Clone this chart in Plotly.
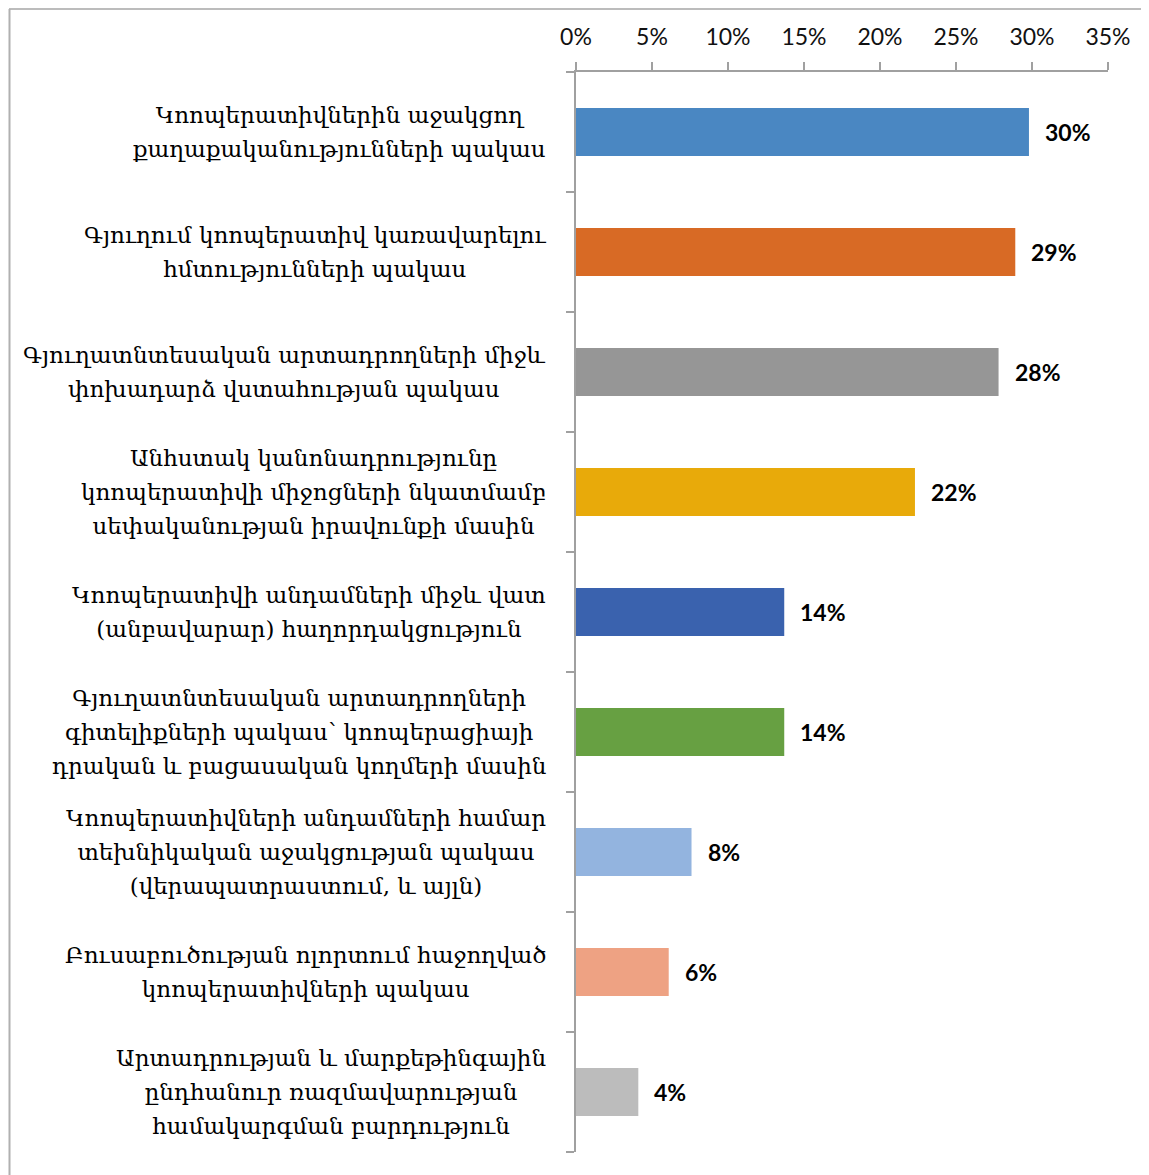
import plotly.graph_objects as go

categories = [
    "Կոոպերատիվներին աջակցող<br>քաղաքականությունների պակաս",
    "Գյուղում կոոպերատիվ կառավարելու<br>հմտությունների պակաս",
    "Գյուղատնտեսական արտադրողների միջև<br>փոխադարձ վստահության պակաս",
    "Անհստակ կանոնադրությունը<br>կոոպերատիվի միջոցների նկատմամբ<br>սեփականության իրավունքի մասին",
    "Կոոպերատիվի անդամների միջև վատ<br>(անբավարար) հաղորդակցություն",
    "Գյուղատնտեսական արտադրողների<br>գիտելիքների պակաս՝ կոոպերացիայի<br>դրական և բացասական կողմերի մասին",
    "Կոոպերատիվների անդամների համար<br>տեխնիկական աջակցության պակաս<br>(վերապատրաստում, և այլն)",
    "Բուսաբուծության ոլորտում հաջողված<br>կոոպերատիվների պակաս",
    "Արտադրության և մարքեթինգային<br>ընդհանուր ռազմավարության<br>համակարգման բարդություն",
]
values = [0.298, 0.289, 0.278, 0.223, 0.137, 0.137, 0.076, 0.061, 0.041]
bar_colors = ["#4a87c2", "#d86a25", "#969696", "#e8aa0a", "#3a62ae",
              "#67a042", "#93b4df", "#eea283", "#bcbcbc"]
x_ticks = [0, 0.05, 0.10, 0.15, 0.20, 0.25, 0.30, 0.35]

# the page body adds an 8px offset; figure coords = reference coords - 8
W, H = 1149, 1167
L, R, T, B = 568, 49, 64, 23
pw, ph = W - L - R, H - T - B

fig = go.Figure(go.Bar(
    x=values, y=list(range(len(categories))), orientation="h",
    marker=dict(color=bar_colors, line=dict(width=0)),
    width=0.4, hoverinfo="skip",
))

for i, (c, v) in enumerate(zip(categories, values)):
    fig.add_annotation(x=v, y=i, xref="x", yref="y", text=f"<b>{v:.0%}</b>",
                       showarrow=False, xanchor="left", xshift=14,
                       font=dict(family="Lato", size=23, color="#000"))
    styled = "<br>".join(f'<span style="font-size:23px">{ln}</span>'
                         for ln in c.split("<br>"))
    fig.add_annotation(x=-28 / pw, y=i, xref="paper", yref="y", text=styled,
                       showarrow=False, xanchor="right", yanchor="middle",
                       align="center",
                       font=dict(family="DejaVu Serif", size=26, color="#000"))

# outer frame (top and left edges visible)
fig.add_shape(type="line", xref="paper", yref="paper",
              x0=(1 - L) / pw, x1=(W + 20 - L) / pw,
              y0=(H - B - 1) / ph, y1=(H - B - 1) / ph,
              line=dict(color="#a6a6a6", width=1.5))
fig.add_shape(type="line", xref="paper", yref="paper",
              x0=(1.5 - L) / pw, x1=(1.5 - L) / pw,
              y0=(H - B - 1) / ph, y1=-30 / ph,
              line=dict(color="#b0b0b0", width=2))

fig.update_layout(
    width=W, height=H,
    margin=dict(l=L, r=R, t=T, b=B, autoexpand=False),
    plot_bgcolor="white", paper_bgcolor="white",
    showlegend=False,
    xaxis=dict(side="top", range=[0, 0.35], tickvals=x_ticks, tickformat=".0%",
               ticks="outside", ticklen=8, tickcolor="#a0a0a0", tickwidth=1.5,
               ticklabelstandoff=8,
               showline=True, linecolor="#a0a0a0", linewidth=1.5,
               showgrid=False, zeroline=False,
               tickfont=dict(family="Lato", size=23, color="#111")),
    yaxis=dict(type="linear", range=[len(categories) - 0.5, -0.5],
               tickvals=[i - 0.5 for i in range(len(categories) + 1)],
               ticks="outside", ticklen=8, tickcolor="#a0a0a0", tickwidth=1.5,
               showticklabels=False,
               showline=True, linecolor="#a0a0a0", linewidth=1.5,
               showgrid=False, zeroline=False),
)

fig.write_html("out.html")
